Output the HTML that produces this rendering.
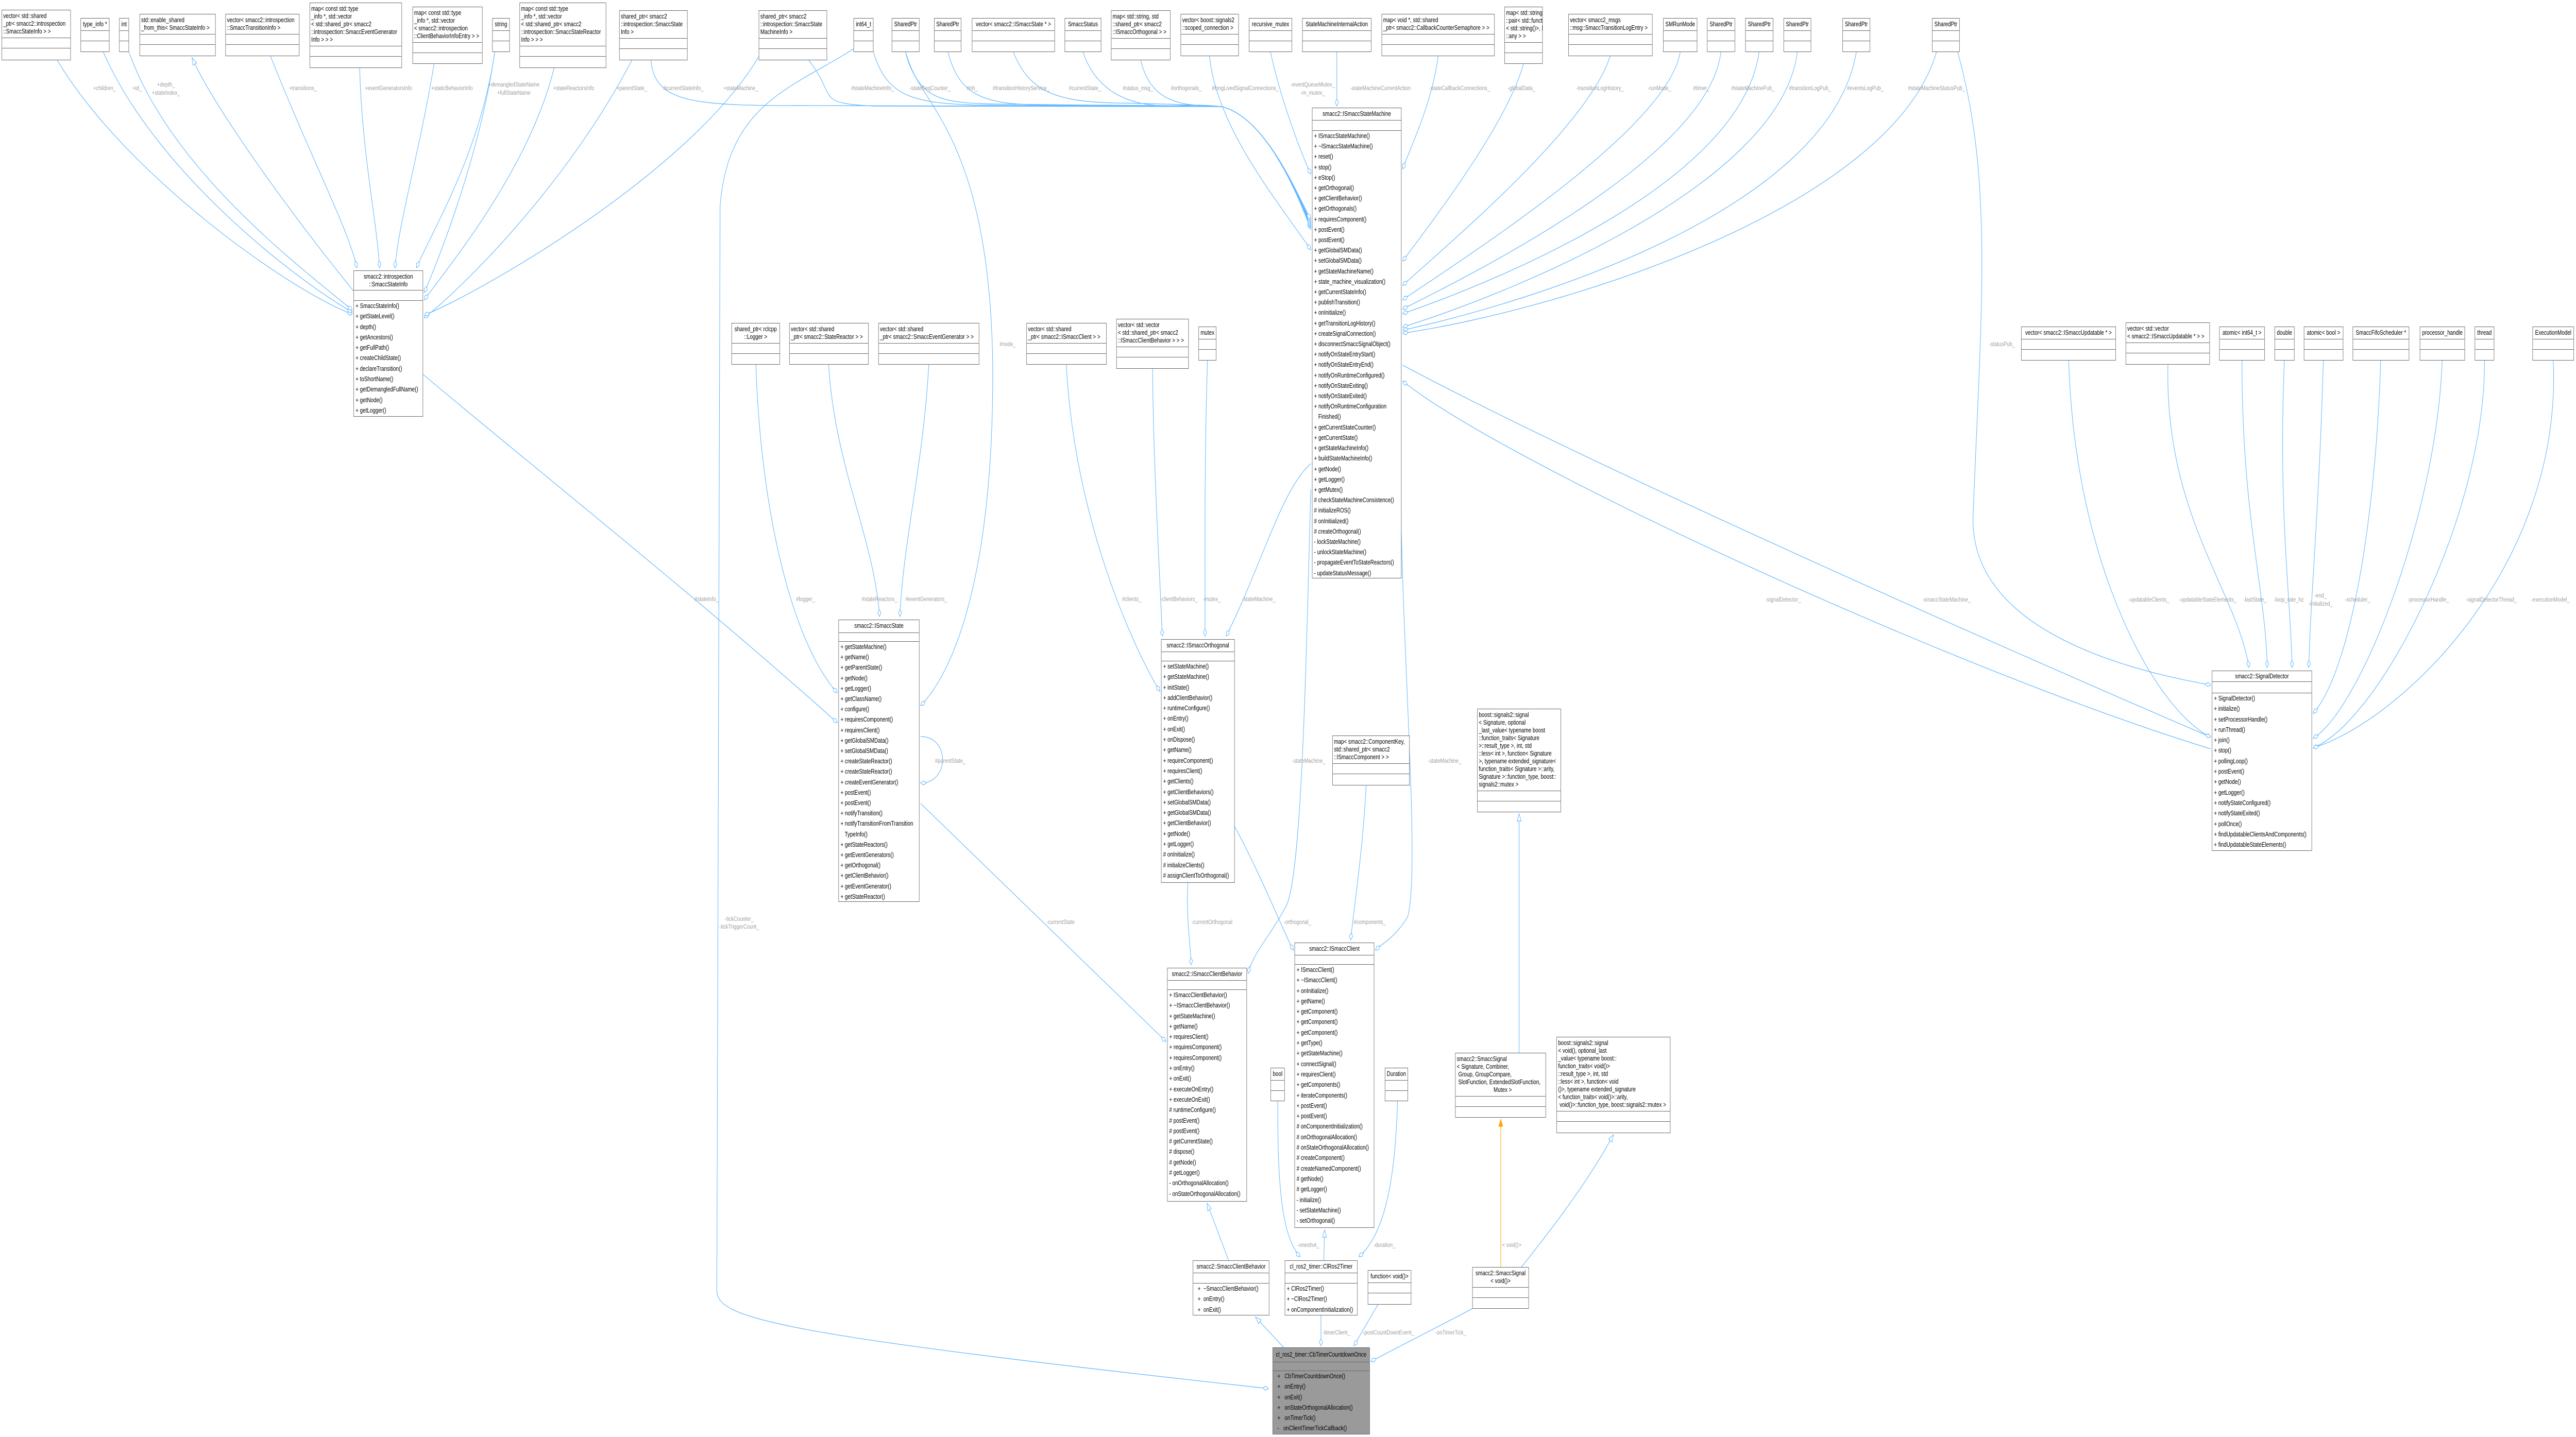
<!DOCTYPE html>
<html><head><meta charset="utf-8">
<style>
html,body{margin:0;padding:0;background:#fff;overflow:hidden}
#c{position:absolute;left:0;top:0;width:6332px;height:2790px;overflow:hidden;background:#fff;transform-origin:0 0}
svg{position:absolute;left:0;top:0}
.b{position:absolute;box-sizing:border-box;border:1px solid #666;background:#fff;overflow:hidden;font:12.5px "Liberation Sans",sans-serif;color:#000}
.t{box-sizing:border-box;border-bottom:1px solid #666;line-height:15px;padding-top:4px;text-align:center;white-space:nowrap}
.t.l{text-align:left;padding-left:3px}
.e{box-sizing:border-box;border-bottom:1px solid #666;height:20px}
.m{line-height:20.3px;padding:0 4px;white-space:pre}
.g{background:#9a9a9a}
.lb{font:12px "Liberation Sans",sans-serif;fill:#9c9c9c;text-anchor:middle}
</style></head><body><div id="c">
<svg width="6332" height="2790" viewBox="0 0 6332 2790">
<defs>
<marker id="d" markerWidth="16" markerHeight="10" refX="15" refY="5" orient="auto" markerUnits="userSpaceOnUse"><path d="M1,5 L8,1 L15,5 L8,9 z" fill="#fff" stroke="#63b8ff" stroke-width="1.2"/></marker>
<marker id="t" markerWidth="16" markerHeight="12" refX="15" refY="6" orient="auto" markerUnits="userSpaceOnUse"><path d="M1,1 L15,6 L1,11 z" fill="#fff" stroke="#63b8ff" stroke-width="1.2"/></marker>
<marker id="o" markerWidth="16" markerHeight="12" refX="15" refY="6" orient="auto" markerUnits="userSpaceOnUse"><path d="M1,1 L15,6 L1,11 z" fill="#ffa500" stroke="#ffa500"/></marker>
</defs>
<g fill="none" stroke="#63b8ff" stroke-width="1.3" marker-end="url(#d)">
<path d="M141,117 C300,330 700,560 866,610"/>
<path d="M254,101 C380,330 720,540 866,606"/>
<path d="M317,101 C420,330 740,520 866,602"/>
<path d="M665,109 C760,300 860,450 877,520"/>
<path d="M884,132 C890,300 925,420 933,520"/>
<path d="M1067,124 C1030,300 980,430 971,520"/>
<path d="M1216,101 C1180,300 1060,450 1024,520"/>
<path d="M1216,101 C1180,300 1080,500 1043,568"/>
<path d="M1362,132 C1300,330 1100,520 1043,582"/>
<path d="M1553,117 C1400,350 1150,550 1043,617"/>
<path d="M1865,110 C1700,330 1200,560 1043,612"/>
<path d="M1600,117 C1610,200 1700,206 2000,205 C2500,205 2800,205 3003,207 C3120,230 3200,400 3222,445"/>
<path d="M1988,117 C2060,190 2000,200 2150,206 C2500,206 2800,205 3003,207 C3120,230 3200,400 3222,442"/>
<path d="M2147,101 C2180,190 2250,200 2400,204 C2700,206 2900,206 3003,207 C3120,230 3200,400 3222,440"/>
<path d="M2226,101 C2260,190 2300,200 2450,202 C2700,204 2900,205 3003,207 C3120,230 3200,400 3222,437"/>
<path d="M2330,101 C2360,190 2420,205 2600,204 C2800,204 2900,205 3003,207 C3120,230 3200,400 3222,434"/>
<path d="M2491,101 C2530,180 2600,198 2750,200 C2900,202 2950,205 3003,207 C3120,230 3200,400 3222,431"/>
<path d="M2662,101 C2700,190 2800,210 2900,205 C2950,203 2980,205 3003,207 C3120,230 3200,400 3222,428"/>
<path d="M2804,117 C2830,200 2900,205 3003,207 C3120,230 3200,400 3222,425"/>
<path d="M2973,109 C2990,250 3150,400 3222,485"/>
<path d="M3123,101 C3150,200 3200,300 3222,338"/>
<path d="M3286,101 C3286,150 3286,180 3286,206"/>
<path d="M3535,109 C3520,200 3470,280 3448,328"/>
<path d="M3745,124 C3700,250 3500,450 3448,507"/>
<path d="M3958,109 C3900,250 3550,480 3448,554"/>
<path d="M4130,101 C4100,250 3600,500 3448,582"/>
<path d="M4230,101 C4200,300 3650,520 3448,600"/>
<path d="M4324,101 C4280,350 3700,540 3448,609"/>
<path d="M4418,101 C4380,350 3750,560 3448,635"/>
<path d="M4563,101 C4500,400 3800,580 3448,641"/>
<path d="M4760,101 C4650,400 3850,600 3448,647"/>
<path d="M4812,101 C4900,350 4870,600 4850,1000 C4840,1200 5150,1290 5434,1330"/>
<path d="M5085,700 C5100,1100 5300,1380 5434,1431"/>
<path d="M5329,708 C5320,1000 5500,1150 5528,1296"/>
<path d="M5511,700 C5510,1000 5570,1150 5573,1296"/>
<path d="M5615,700 C5600,1000 5630,1150 5634,1296"/>
<path d="M5711,700 C5700,1000 5680,1150 5675,1296"/>
<path d="M5852,700 C5840,1000 5780,1300 5686,1385"/>
<path d="M6003,700 C5990,1000 5800,1380 5686,1433"/>
<path d="M6107,700 C6110,1000 5850,1400 5686,1452"/>
<path d="M6276,700 C6300,1100 5900,1400 5686,1452"/>
<path d="M5434,1454 C4800,1300 3700,900 3448,740"/>
<path d="M3448,709 C3900,900 4900,1250 5434,1431"/>
<path d="M1858,708 C1870,1000 1950,1250 2058,1345"/>
<path d="M1040,727 C1300,900 1700,1150 2058,1403"/>
<path d="M2037,708 C2050,900 2150,1050 2162,1197"/>
<path d="M2283,708 C2270,900 2220,1050 2212,1197"/>
<path d="M2226,101 C2250,200 2430,250 2440,700 C2445,1100 2350,1300 2263,1370"/>
<path d="M2263,1430 C2335,1430 2335,1520 2263,1520"/>
<path d="M2263,1560 L2866,2022"/>
<path d="M2621,708 C2640,1000 2780,1250 2851,1342"/>
<path d="M2833,716 C2835,900 2850,1100 2857,1235"/>
<path d="M2968,700 C2960,900 2962,1100 2962,1235"/>
<path d="M3222,900 C3150,950 3100,1100 3014,1235"/>
<path d="M2920,1714 C2915,1780 2925,1820 2928,1873"/>
<path d="M3222,950 C3210,1300 3200,1700 3161,1760 C3120,1820 3080,1850 3068,1890"/>
<path d="M3035,1605 C3100,1700 3150,1800 3179,1845"/>
<path d="M3358,1525 C3350,1650 3330,1750 3320,1825"/>
<path d="M3444,1000 C3450,1300 3490,1700 3460,1780 C3430,1820 3400,1830 3381,1845"/>
<path d="M3141,2138 C3140,2300 3150,2400 3196,2440"/>
<path d="M3435,2138 C3430,2300 3400,2400 3340,2440"/>
<path d="M3247,2554 L3247,2613"/>
<path d="M3387,2533 L3328,2613"/>
<path d="M3619,2541 L3370,2643"/>
<path d="M2098,95 C1950,170 1790,200 1770,400 L1762,2505 C1762,2560 1900,2590 3118,2696"/>
</g>
<g fill="none" stroke="#63b8ff" stroke-width="1.3" marker-end="url(#t)">
<path d="M869,565 C700,400 520,200 472,112"/>
<path d="M3254,2447 L3256,2388"/>
<path d="M3020,2447 L2967,2336"/>
<path d="M3155,2616 L3086,2557"/>
<path d="M3734,2044 L3734,1580"/>
<path d="M3740,2460 C3800,2400 3900,2300 3966,2203"/>
</g>
<path d="M3689,2460 L3689,2173" fill="none" stroke="#ffa500" stroke-width="1.3" marker-end="url(#o)"/>
<g class="lb">
<text x="257" y="175">+children_</text><text x="337" y="175">+id_</text>
<text x="408" y="168">+depth_</text><text x="408" y="184">+stateIndex_</text>
<text x="745" y="175">+transitions_</text><text x="955" y="175">+eventGeneratorsInfo</text>
<text x="1111" y="175">+staticBehaviorInfo</text>
<text x="1263" y="168">+demangledStateName</text><text x="1263" y="184">+fullStateName</text>
<text x="1410" y="175">+stateReactorsInfo</text><text x="1553" y="175">+parentState_</text>
<text x="1680" y="175">#currentStateInfo_</text><text x="1821" y="175">+stateMachine_</text>
<text x="2145" y="175">#stateMachineInfo_</text><text x="2286" y="175">-stateSeqCounter_</text>
<text x="2390" y="175">#nh_</text><text x="2510" y="175">#transitionHistoryService_</text>
<text x="2667" y="175">#currentState_</text><text x="2797" y="175">#status_msg_</text>
<text x="2916" y="175">#orthogonals_</text><text x="3061" y="175">#longLivedSignalConnections_</text>
<text x="3227" y="168">-eventQueueMutex_</text><text x="3227" y="184">-m_mutex_</text>
<text x="3393" y="175">-stateMachineCurrentAction</text><text x="3588" y="175">-stateCallbackConnections_</text>
<text x="3740" y="175">-globalData_</text><text x="3933" y="175">-transitionLogHistory_</text>
<text x="4079" y="175">-runMode_</text><text x="4182" y="175">#timer_</text>
<text x="4309" y="175">#stateMachinePub_</text><text x="4449" y="175">#transitionLogPub_</text>
<text x="4585" y="175">#eventsLogPub_</text><text x="4760" y="175">#stateMachineStatusPub_</text>
<text x="4921" y="672">-statusPub_</text><text x="2477" y="672">#node_</text>
<text x="1737" y="1167">#stateInfo_</text><text x="1980" y="1167">#logger_</text>
<text x="2162" y="1167">#stateReactors_</text><text x="2277" y="1167">#eventGenerators_</text>
<text x="2336" y="1481">#parentState_</text>
<text x="2782" y="1167">#clients_</text><text x="2898" y="1167">-clientBehaviors_</text>
<text x="2979" y="1167">-mutex_</text><text x="3094" y="1167">-stateMachine_</text>
<text x="3217" y="1481">-stateMachine_</text><text x="3551" y="1481">-stateMachine_</text>
<text x="2607" y="1794">-currentState</text><text x="2979" y="1794">-currentOrthogonal</text>
<text x="3189" y="1794">-orthogonal_</text><text x="3367" y="1794">#components_</text>
<text x="1817" y="1788">-tickCounter_</text><text x="1817" y="1803">-tickTriggerCount_</text>
<text x="4383" y="1168">-signalDetector_</text><text x="4785" y="1168">-smaccStateMachine_</text>
<text x="5282" y="1168">-updatableClients_</text><text x="5427" y="1168">-updatableStateElements_</text>
<text x="5543" y="1168">-lastState_</text><text x="5626" y="1168">-loop_rate_hz</text>
<text x="5704" y="1160">-end_</text><text x="5704" y="1176">-initialized_</text>
<text x="5795" y="1168">-scheduler_</text><text x="5969" y="1168">-processorHandle_</text>
<text x="6124" y="1168">-signalDetectorThread_</text><text x="6269" y="1168">-executionModel_</text>
<text x="3216" y="2421">-oneshot_</text><text x="3403" y="2421">-duration_</text>
<text x="3716" y="2421">&lt; void()&gt;</text>
<text x="3285" y="2591">-timerClient_</text><text x="3413" y="2591">-postCountDownEvent_</text>
<text x="3566" y="2591">-onTimerTick_</text>
</g>
</svg>

<div class="b" style="left:4px;top:19px;width:170px;height:98px"><div class="t l" style="height:54px">vector&lt; std::shared<br>_ptr&lt; smacc2::introspection<br>::SmaccStateInfo &gt; &gt;</div><div class="e"></div></div>
<div class="b" style="left:198px;top:35px;width:71px;height:66px"><div class="t" style="height:24px">type_info *</div><div class="e"></div></div>
<div class="b" style="left:293px;top:35px;width:24px;height:66px"><div class="t" style="height:24px">int</div><div class="e"></div></div>
<div class="b" style="left:343px;top:27px;width:187px;height:82px"><div class="t l" style="height:39px">std::enable_shared<br>_from_this&lt; SmaccStateInfo &gt;</div><div class="e"></div></div>
<div class="b" style="left:554px;top:27px;width:182px;height:82px"><div class="t l" style="height:39px">vector&lt; smacc2::introspection<br>::SmaccTransitionInfo &gt;</div><div class="e"></div></div>
<div class="b" style="left:761px;top:5px;width:227px;height:127px"><div class="t l" style="height:84px">map&lt; const std::type<br>_info *, std::vector<br>&lt; std::shared_ptr&lt; smacc2<br>::introspection::SmaccEventGenerator<br>Info &gt; &gt; &gt;</div><div class="e"></div></div>
<div class="b" style="left:1014px;top:13px;width:172px;height:111px"><div class="t l" style="height:69px">map&lt; const std::type<br>_info *, std::vector<br>&lt; smacc2::introspection<br>::ClientBehaviorInfoEntry &gt; &gt;</div><div class="e"></div></div>
<div class="b" style="left:1210px;top:35px;width:43px;height:66px"><div class="t" style="height:24px">string</div><div class="e"></div></div>
<div class="b" style="left:1277px;top:5px;width:213px;height:127px"><div class="t l" style="height:84px">map&lt; const std::type<br>_info *, std::vector<br>&lt; std::shared_ptr&lt; smacc2<br>::introspection::SmaccStateReactor<br>Info &gt; &gt; &gt;</div><div class="e"></div></div>
<div class="b" style="left:1522px;top:20px;width:168px;height:97px"><div class="t l" style="height:54px">shared_ptr&lt; smacc2<br>::introspection::SmaccState<br>Info &gt;</div><div class="e"></div></div>
<div class="b" style="left:1865px;top:20px;width:168px;height:97px"><div class="t l" style="height:54px">shared_ptr&lt; smacc2<br>::introspection::SmaccState<br>MachineInfo &gt;</div><div class="e"></div></div>
<div class="b" style="left:2098px;top:35px;width:49px;height:66px"><div class="t" style="height:24px">int64_t</div><div class="e"></div></div>
<div class="b" style="left:2192px;top:35px;width:68px;height:66px"><div class="t" style="height:24px">SharedPtr</div><div class="e"></div></div>
<div class="b" style="left:2296px;top:35px;width:67px;height:66px"><div class="t" style="height:24px">SharedPtr</div><div class="e"></div></div>
<div class="b" style="left:2389px;top:35px;width:204px;height:66px"><div class="t" style="height:24px">vector&lt; smacc2::ISmaccState * &gt;</div><div class="e"></div></div>
<div class="b" style="left:2617px;top:35px;width:90px;height:66px"><div class="t" style="height:24px">SmaccStatus</div><div class="e"></div></div>
<div class="b" style="left:2731px;top:20px;width:146px;height:97px"><div class="t l" style="height:54px">map&lt; std::string, std<br>::shared_ptr&lt; smacc2<br>::ISmaccOrthogonal &gt; &gt;</div><div class="e"></div></div>
<div class="b" style="left:2902px;top:27px;width:143px;height:82px"><div class="t l" style="height:39px">vector&lt; boost::signals2<br>::scoped_connection &gt;</div><div class="e"></div></div>
<div class="b" style="left:3070px;top:35px;width:106px;height:66px"><div class="t" style="height:24px">recursive_mutex</div><div class="e"></div></div>
<div class="b" style="left:3201px;top:35px;width:170px;height:66px"><div class="t" style="height:24px">StateMachineInternalAction</div><div class="e"></div></div>
<div class="b" style="left:3396px;top:27px;width:278px;height:82px"><div class="t l" style="height:39px">map&lt; void *, std::shared<br>_ptr&lt; smacc2::CallbackCounterSemaphore &gt; &gt;</div><div class="e"></div></div>
<div class="b" style="left:3698px;top:13px;width:94px;height:111px"><div class="t l" style="height:69px">map&lt; std::string, std<br>::pair&lt; std::function<br>&lt; std::string()&gt;, boost<br>::any &gt; &gt;</div><div class="e"></div></div>
<div class="b" style="left:3855px;top:27px;width:207px;height:82px"><div class="t l" style="height:39px">vector&lt; smacc2_msgs<br>::msg::SmaccTransitionLogEntry &gt;</div><div class="e"></div></div>
<div class="b" style="left:4088px;top:35px;width:84px;height:66px"><div class="t" style="height:24px">SMRunMode</div><div class="e"></div></div>
<div class="b" style="left:4196px;top:35px;width:69px;height:66px"><div class="t" style="height:24px">SharedPtr</div><div class="e"></div></div>
<div class="b" style="left:4290px;top:35px;width:69px;height:66px"><div class="t" style="height:24px">SharedPtr</div><div class="e"></div></div>
<div class="b" style="left:4384px;top:35px;width:68px;height:66px"><div class="t" style="height:24px">SharedPtr</div><div class="e"></div></div>
<div class="b" style="left:4529px;top:35px;width:68px;height:66px"><div class="t" style="height:24px">SharedPtr</div><div class="e"></div></div>
<div class="b" style="left:4749px;top:35px;width:68px;height:66px"><div class="t" style="height:24px">SharedPtr</div><div class="e"></div></div>

<div class="b" style="left:1798px;top:627px;width:119px;height:81px"><div class="t" style="height:39px">shared_ptr&lt; rclcpp<br>::Logger &gt;</div><div class="e"></div></div>
<div class="b" style="left:1940px;top:627px;width:195px;height:81px"><div class="t l" style="height:39px">vector&lt; std::shared<br>_ptr&lt; smacc2::StateReactor &gt; &gt;</div><div class="e"></div></div>
<div class="b" style="left:2159px;top:627px;width:248px;height:81px"><div class="t l" style="height:39px">vector&lt; std::shared<br>_ptr&lt; smacc2::SmaccEventGenerator &gt; &gt;</div><div class="e"></div></div>
<div class="b" style="left:2523px;top:627px;width:197px;height:81px"><div class="t l" style="height:39px">vector&lt; std::shared<br>_ptr&lt; smacc2::ISmaccClient &gt; &gt;</div><div class="e"></div></div>
<div class="b" style="left:2744px;top:619px;width:178px;height:97px"><div class="t l" style="height:54px">vector&lt; std::vector<br>&lt; std::shared_ptr&lt; smacc2<br>::ISmaccClientBehavior &gt; &gt; &gt;</div><div class="e"></div></div>
<div class="b" style="left:2946px;top:634px;width:44px;height:66px"><div class="t" style="height:24px">mutex</div><div class="e"></div></div>
<div class="b" style="left:4968px;top:634px;width:233px;height:66px"><div class="t" style="height:24px">vector&lt; smacc2::ISmaccUpdatable * &gt;</div><div class="e"></div></div>
<div class="b" style="left:5225px;top:626px;width:207px;height:82px"><div class="t l" style="height:39px">vector&lt; std::vector<br>&lt; smacc2::ISmaccUpdatable * &gt; &gt;</div><div class="e"></div></div>
<div class="b" style="left:5455px;top:634px;width:112px;height:66px"><div class="t" style="height:24px">atomic&lt; int64_t &gt;</div><div class="e"></div></div>
<div class="b" style="left:5591px;top:634px;width:49px;height:66px"><div class="t" style="height:24px">double</div><div class="e"></div></div>
<div class="b" style="left:5663px;top:634px;width:97px;height:66px"><div class="t" style="height:24px">atomic&lt; bool &gt;</div><div class="e"></div></div>
<div class="b" style="left:5783px;top:634px;width:139px;height:66px"><div class="t" style="height:24px">SmaccFifoScheduler *</div><div class="e"></div></div>
<div class="b" style="left:5948px;top:634px;width:111px;height:66px"><div class="t" style="height:24px">processor_handle</div><div class="e"></div></div>
<div class="b" style="left:6083px;top:634px;width:48px;height:66px"><div class="t" style="height:24px">thread</div><div class="e"></div></div>
<div class="b" style="left:6225px;top:634px;width:102px;height:66px"><div class="t" style="height:24px">ExecutionModel</div><div class="e"></div></div>

<div class="b" style="left:869px;top:525px;width:171px;height:284px"><div class="t" style="height:38px">smacc2::introspection<br>::SmaccStateInfo</div><div class="e"></div><div class="m">+ SmaccStateInfo()
+ getStateLevel()
+ depth()
+ getAncestors()
+ getFullPath()
+ createChildState()
+ declareTransition()
+ toShortName()
+ getDemangledFullName()
+ getNode()
+ getLogger()</div></div>

<div class="b" style="left:3225px;top:209px;width:220px;height:914px"><div class="t" style="height:24px">smacc2::ISmaccStateMachine</div><div class="e"></div><div class="m" style="line-height:20.2px">+ ISmaccStateMachine()
+ ~ISmaccStateMachine()
+ reset()
+ stop()
+ eStop()
+ getOrthogonal()
+ getClientBehavior()
+ getOrthogonals()
+ requiresComponent()
+ postEvent()
+ postEvent()
+ getGlobalSMData()
+ setGlobalSMData()
+ getStateMachineName()
+ state_machine_visualization()
+ getCurrentStateInfo()
+ publishTransition()
+ onInitialize()
+ getTransitionLogHistory()
+ createSignalConnection()
+ disconnectSmaccSignalObject()
+ notifyOnStateEntryStart()
+ notifyOnStateEntryEnd()
+ notifyOnRuntimeConfigured()
+ notifyOnStateExiting()
+ notifyOnStateExited()
+ notifyOnRuntimeConfiguration
   Finished()
+ getCurrentStateCounter()
+ getCurrentState()
+ getStateMachineInfo()
+ buildStateMachineInfo()
+ getNode()
+ getLogger()
+ getMutex()
# checkStateMachineConsistence()
# initializeROS()
# onInitialized()
# createOrthogonal()
- lockStateMachine()
- unlockStateMachine()
- propagateEventToStateReactors()
- updateStatusMessage()</div></div>

<div class="b" style="left:2061px;top:1203px;width:199px;height:548px"><div class="t" style="height:25px">smacc2::ISmaccState</div><div class="e" style="height:17px"></div><div class="m" style="line-height:20.2px">+ getStateMachine()
+ getName()
+ getParentState()
+ getNode()
+ getLogger()
+ getClassName()
+ configure()
+ requiresComponent()
+ requiresClient()
+ getGlobalSMData()
+ setGlobalSMData()
+ createStateReactor()
+ createStateReactor()
+ createEventGenerator()
+ postEvent()
+ postEvent()
+ notifyTransition()
+ notifyTransitionFromTransition
   TypeInfo()
+ getStateReactors()
+ getEventGenerators()
+ getOrthogonal()
+ getClientBehavior()
+ getEventGenerator()
+ getStateReactor()</div></div>

<div class="b" style="left:2854px;top:1241px;width:181px;height:473px"><div class="t" style="height:24px">smacc2::ISmaccOrthogonal</div><div class="e" style="height:18px"></div><div class="m">+ setStateMachine()
+ getStateMachine()
+ initState()
+ addClientBehavior()
+ runtimeConfigure()
+ onEntry()
+ onExit()
+ onDispose()
+ getName()
+ requireComponent()
+ requiresClient()
+ getClients()
+ getClientBehaviors()
+ setGlobalSMData()
+ getGlobalSMData()
+ getClientBehavior()
+ getNode()
+ getLogger()
# onInitialize()
# initializeClients()
# assignClientToOrthogonal()</div></div>

<div class="b" style="left:2869px;top:1879px;width:196px;height:454px"><div class="t" style="height:24px">smacc2::ISmaccClientBehavior</div><div class="e" style="height:18px"></div><div class="m">+ ISmaccClientBehavior()
+ ~ISmaccClientBehavior()
+ getStateMachine()
+ getName()
+ requiresClient()
+ requiresComponent()
+ requiresComponent()
+ onEntry()
+ onExit()
+ executeOnEntry()
+ executeOnExit()
# runtimeConfigure()
# postEvent()
# postEvent()
# getCurrentState()
# dispose()
# getNode()
# getLogger()
- onOrthogonalAllocation()
- onStateOrthogonalAllocation()</div></div>

<div class="b" style="left:3182px;top:1830px;width:196px;height:554px"><div class="t" style="height:24px">smacc2::ISmaccClient</div><div class="e" style="height:18px"></div><div class="m">+ ISmaccClient()
+ ~ISmaccClient()
+ onInitialize()
+ getName()
+ getComponent()
+ getComponent()
+ getComponent()
+ getType()
+ getStateMachine()
+ connectSignal()
+ requiresClient()
+ getComponents()
+ iterateComponents()
+ postEvent()
+ postEvent()
# onComponentInitialization()
# onOrthogonalAllocation()
# onStateOrthogonalAllocation()
# createComponent()
# createNamedComponent()
# getNode()
# getLogger()
- initialize()
- setStateMachine()
- setOrthogonal()</div></div>

<div class="b" style="left:3275px;top:1428px;width:190px;height:97px"><div class="t l" style="height:54px">map&lt; smacc2::ComponentKey,<br>std::shared_ptr&lt; smacc2<br>::ISmaccComponent &gt; &gt;</div><div class="e"></div></div>
<div class="b" style="left:3631px;top:1376px;width:206px;height:201px"><div class="t l" style="height:159px">boost::signals2::signal<br>&lt; Signature, optional<br>_last_value&lt; typename boost<br>::function_traits&lt; Signature<br>&gt;::result_type &gt;, int, std<br>::less&lt; int &gt;, function&lt; Signature<br>&gt;, typename extended_signature&lt;<br>function_traits&lt; Signature &gt;::arity,<br>Signature &gt;::function_type, boost::<br>signals2::mutex &gt;</div><div class="e"></div></div>
<div class="b" style="left:3123px;top:2073px;width:35px;height:65px"><div class="t" style="height:24px">bool</div><div class="e"></div></div>
<div class="b" style="left:3404px;top:2073px;width:57px;height:65px"><div class="t" style="height:24px">Duration</div><div class="e"></div></div>
<div class="b" style="left:3577px;top:2044px;width:223px;height:126px"><div class="t l" style="height:84px">smacc2::SmaccSignal<br>&lt; Signature, Combiner,<br>&nbsp;Group, GroupCompare,<br>&nbsp;SlotFunction, ExtendedSlotFunction,<br>&nbsp;&nbsp;&nbsp;&nbsp;&nbsp;&nbsp;&nbsp;&nbsp;&nbsp;&nbsp;&nbsp;&nbsp;&nbsp;&nbsp;&nbsp;&nbsp;&nbsp;&nbsp;&nbsp;&nbsp;&nbsp;&nbsp;&nbsp;&nbsp;&nbsp;&nbsp;Mutex &gt;</div><div class="e"></div></div>
<div class="b" style="left:3826px;top:2013px;width:280px;height:187px"><div class="t l" style="height:144px">boost::signals2::signal<br>&lt; void(), optional_last<br>_value&lt; typename boost::<br>function_traits&lt; void()&gt;<br>::result_type &gt;, int, std<br>::less&lt; int &gt;, function&lt; void<br>()&gt;, typename extended_signature<br>&lt; function_traits&lt; void()&gt;::arity,<br>&nbsp;void()&gt;::function_type, boost::signals2::mutex &gt;</div><div class="e"></div></div>
<div class="b" style="left:3362px;top:2466px;width:107px;height:67px"><div class="t" style="height:24px">function&lt; void()&gt;</div><div class="e"></div></div>
<div class="b" style="left:3619px;top:2460px;width:139px;height:81px"><div class="t" style="height:39px">smacc2::SmaccSignal<br>&lt; void()&gt;</div><div class="e"></div></div>

<div class="b" style="left:2932px;top:2447px;width:188px;height:107px"><div class="t" style="height:24px">smacc2::SmaccClientBehavior</div><div class="e"></div><div class="m">  +  ~SmaccClientBehavior()
  +  onEntry()
  +  onExit()</div></div>
<div class="b" style="left:3158px;top:2447px;width:179px;height:107px"><div class="t" style="height:24px">cl_ros2_timer::ClRos2Timer</div><div class="e"></div><div class="m">+ ClRos2Timer()
+ ~ClRos2Timer()
+ onComponentInitialization()</div></div>
<div class="b g" style="left:3128px;top:2616px;width:239px;height:169px"><div class="t" style="height:28px;padding-top:6px">cl_ros2_timer::CbTimerCountdownOnce</div><div class="e" style="height:17px"></div><div class="m">  +   CbTimerCountdownOnce()
  +   onEntry()
  +   onExit()
  +   onStateOrthogonalAllocation()
  +   onTimerTick()
  -   onClientTimerTickCallback()</div></div>

<div class="b" style="left:5437px;top:1302px;width:246px;height:350px"><div class="t" style="height:21px;padding-top:3px">smacc2::SignalDetector</div><div class="e" style="height:22px"></div><div class="m">+ SignalDetector()
+ initialize()
+ setProcessorHandle()
+ runThread()
+ join()
+ stop()
+ pollingLoop()
+ postEvent()
+ getNode()
+ getLogger()
+ notifyStateConfigured()
+ notifyStateExited()
+ pollOnce()
+ findUpdatableClientsAndComponents()
+ findUpdatableStateElements()</div></div>
</div>
<script>
(function(){
  function fit(){
    var w=window.innerWidth||document.documentElement.clientWidth||6332;
    var h=window.innerHeight||document.documentElement.clientHeight||2790;
    var sx=w/6332, sy=h/2790;
    if(Math.abs(sx-1)<0.001) sx=1;
    if(Math.abs(sy-1)<0.001) sy=1;
    document.getElementById('c').style.transform=(sx===1&&sy===1)?'none':'scale('+sx+','+sy+')';
  }
  fit();
  window.addEventListener('resize',fit);
})();
</script>
</body></html>
